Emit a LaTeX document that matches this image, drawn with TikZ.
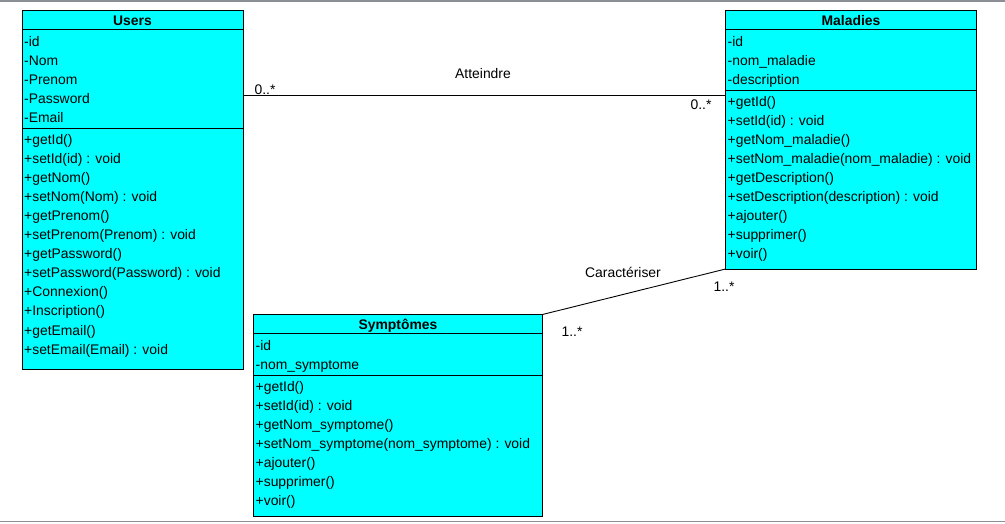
\documentclass[tikz,border=0pt]{standalone}
\usepackage{fontspec}
\setmainfont{Liberation Sans}
\definecolor{clsfill}{HTML}{00FFFF}
\definecolor{framegray}{HTML}{8C9096}
\begin{document}
\begin{tikzpicture}[x=1pt,y=-1pt,
  cls/.style={draw=black, fill=clsfill, line width=1pt, anchor=north west, inner sep=0pt, outer sep=0pt},
  sep/.style={draw=black, line width=1pt},
  txt/.style={anchor=base west, inner sep=0pt, font=\fontsize{13.9}{16}\selectfont},
  hdr/.style={anchor=base, inner sep=0pt, font=\fontsize{13.9}{16}\selectfont\bfseries},
  assoc/.style={draw=black, line width=0.9pt},
  lbl/.style={anchor=base, inner sep=0pt, font=\fontsize{13.9}{16}\selectfont}]
\useasboundingbox (0,0) rectangle (1005,523);
\draw[framegray, line width=1.5pt] (0,1) -- (1005,1);
\draw[framegray, line width=1.5pt] (0,521.5) -- (1005,521.5);

% Users
\node[cls, minimum width=221pt, minimum height=359pt] (users) at (22,10) {};
\draw[sep] (22,29) -- (243,29);
\draw[sep] (22,128.5) -- (243,128.5);
\node[hdr] (usersT) at (132.5,25) {Users};
\foreach \t [count=\i] in {-id,-Nom,-Prenom,-Password,-Email}
  \node[txt] (ua\i) at (24,{46+(\i-1)*19}) {\t};
\foreach \t [count=\i] in {+getId(),+setId(id) : void,+getNom(),+setNom(Nom) : void,+getPrenom(),+setPrenom(Prenom) : void,+getPassword(),+setPassword(Password) : void,+Connexion(),+Inscription(),+getEmail(),+setEmail(Email) : void}
  \node[txt] (um\i) at (24,{144+(\i-1)*19.1}) {\t};

% Maladies
\node[cls, minimum width=251pt, minimum height=259pt] (maladies) at (725.5,10) {};
\draw[sep] (725.5,29) -- (976.5,29);
\draw[sep] (725.5,90.5) -- (976.5,90.5);
\node[hdr] (maladiesT) at (851,25) {Maladies};
\foreach \t [count=\i] in {-id,-nom\_maladie,-description}
  \node[txt] (ma\i) at (727.5,{46+(\i-1)*19}) {\t};
\foreach \t [count=\i] in {+getId(),+setId(id) : void,+getNom\_maladie(),+setNom\_maladie(nom\_maladie) : void,+getDescription(),+setDescription(description) : void,+ajouter(),+supprimer(),+voir()}
  \node[txt] (mm\i) at (727.5,{106+(\i-1)*19.1}) {\t};

% Symptomes
\node[cls, minimum width=289pt, minimum height=201.5pt] (symptomes) at (253.5,314.5) {};
\draw[sep] (253.5,333.5) -- (542.5,333.5);
\draw[sep] (253.5,375.5) -- (542.5,375.5);
\node[hdr] (symptomesT) at (398,329.5) {Symptômes};
\foreach \t [count=\i] in {-id,-nom\_symptome}
  \node[txt] (sa\i) at (255.5,{350+(\i-1)*19}) {\t};
\foreach \t [count=\i] in {+getId(),+setId(id) : void,+getNom\_symptome(),+setNom\_symptome(nom\_symptome) : void,+ajouter(),+supprimer(),+voir()}
  \node[txt] (sm\i) at (255.5,{391+(\i-1)*19}) {\t};

% Associations
\coordinate (attY) at (0,95);
\draw[assoc] (users.east |- attY) -- (maladies.west |- attY);
\node[lbl] (att) at (483,78) {Atteindre};
\node[lbl] (m1) at (265,94) {0..*};
\node[lbl] (m2) at (701,109) {0..*};

\draw[assoc] (maladies.south west) -- (symptomes.north east);
\node[lbl] (car) at (623,277) {Caractériser};
\node[lbl] (m3) at (724,291) {1..*};
\node[lbl] (m4) at (572,336) {1..*};
\end{tikzpicture}
\end{document}
